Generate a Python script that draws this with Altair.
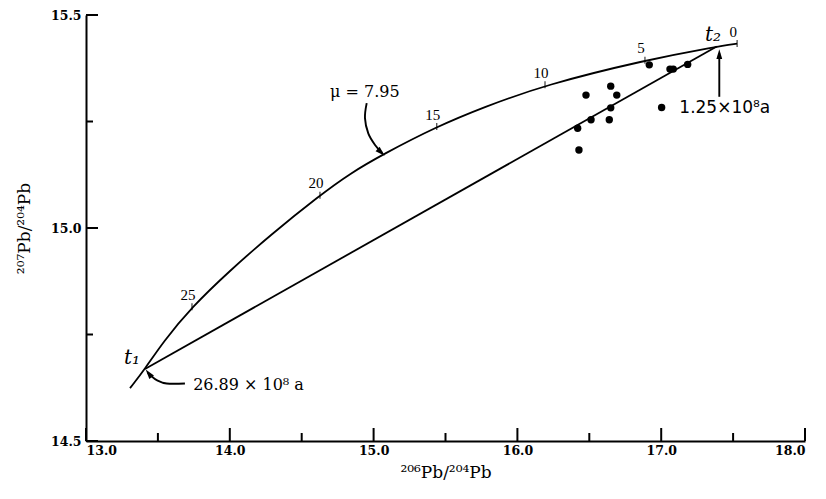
import altair as alt
import pandas as pd

# ---- data ----
# growth curve (mu = 7.95), from beyond t1 to t = 0
curve_x = [13.306, 13.410, 13.535, 13.737, 14.001, 14.280, 14.627, 14.836, 15.065,
           15.439, 15.761, 16.192, 16.887, 17.386, 17.528]
curve_y = [14.624, 14.669, 14.732, 14.815, 14.900, 14.983, 15.077, 15.128, 15.173,
           15.238, 15.283, 15.336, 15.394, 15.426, 15.433]

# age marks on the growth curve (x 10^8 a)
age_labels = ["25", "20", "15", "10", "5", "0"]
age_x = [13.737, 14.627, 15.439, 16.192, 16.887, 17.528]
age_y = [14.815, 15.077, 15.238, 15.336, 15.394, 15.433]

# isochron (t1 -> t2)
iso_x = [13.410, 17.386]
iso_y = [14.669, 15.426]

# measured samples
sample_x = [16.917, 17.061, 17.084, 17.184, 16.477, 16.649, 16.691,
            16.649, 16.512, 16.639, 16.419, 16.428, 17.003]
sample_y = [15.383, 15.373, 15.373, 15.384, 15.312, 15.333, 15.312,
            15.282, 15.254, 15.254, 15.234, 15.183, 15.283]

# axis ticks
x_major = [13.0, 14.0, 15.0, 16.0, 17.0, 18.0]
x_minor = [13.5, 14.5, 15.5, 16.5, 17.5]
y_major = [14.5, 15.0, 15.5]
y_minor = [14.75, 15.25]

# annotation arrows
mu_arrow_x = [14.952, 14.940, 14.963, 15.010, 15.060]
mu_arrow_y = [15.293, 15.258, 15.222, 15.195, 15.176]
t1_arrow_x = [13.688, 13.561, 13.492, 13.452, 13.430]
t1_arrow_y = [14.635, 14.635, 14.643, 14.653, 14.660]
t2_arrow_x = [17.404, 17.404]
t2_arrow_y = [15.308, 15.41]
head_x = [15.045, 13.442, 17.404]
head_y = [15.180, 14.656, 15.405]
head_angle = [133, 322, 0]

# texts
texts = ["μ = 7.95", "26.89 × 10⁸ a"]
text_x = [14.697, 13.745]
text_y = [15.320, 14.631]
t2_text = "1.25×10⁸a"
t2_text_x = 17.126
t2_text_y = 15.282
tlabels = ["t₁", "t₂"]
tlabel_x = [13.32, 17.36]
tlabel_y = [14.695, 15.453]

# ---- scales / axes ----
xs = alt.Scale(domain=[13, 18], nice=False, zero=False)
ys = alt.Scale(domain=[14.5, 15.5], nice=False, zero=False)
common_axis = dict(ticks=False, grid=False, domainColor="black", domainWidth=2,
                   labelFont="DejaVu Serif", labelFontSize=12.5, labelFontWeight="bold",
                   labelColor="black",
                   titleFont="DejaVu Serif", titleFontSize=17,
                   titleFontWeight="normal", titleColor="black", format=".1f")
xaxis = alt.Axis(title="²⁰⁶Pb/²⁰⁴Pb", values=x_major, labelPadding=3,
                 titlePadding=8, **common_axis)
yaxis = alt.Axis(title="²⁰⁷Pb/²⁰⁴Pb", values=y_major, labelPadding=5,
                 titlePadding=17, **common_axis)


def X(f):
    return alt.X(f"{f}:Q", scale=xs, axis=xaxis)


def Y(f):
    return alt.Y(f"{f}:Q", scale=ys, axis=yaxis)


curve_df = pd.DataFrame({"x": curve_x, "y": curve_y})
age_df = pd.DataFrame({"x": age_x, "y": age_y, "label": age_labels})
iso_df = pd.DataFrame({"x": iso_x, "y": iso_y})
sample_df = pd.DataFrame({"x": sample_x, "y": sample_y})

arrows = []
for name, ax, ay in [("mu", mu_arrow_x, mu_arrow_y), ("t1", t1_arrow_x, t1_arrow_y),
                     ("t2", t2_arrow_x, t2_arrow_y)]:
    for i, (a, b) in enumerate(zip(ax, ay)):
        arrows.append({"g": name, "i": i, "x": a, "y": b})
arrow_df = pd.DataFrame(arrows)
head_df = pd.DataFrame({"x": head_x, "y": head_y, "a": head_angle})
text_df = pd.DataFrame({"x": text_x, "y": text_y, "t": texts})
t2t_df = pd.DataFrame({"x": [t2_text_x], "y": [t2_text_y], "t": [t2_text]})
tl_df = pd.DataFrame({"x": tlabel_x, "y": tlabel_y, "t": tlabels})

xmaj_df = pd.DataFrame({"x": x_major})
xmin_df = pd.DataFrame({"x": x_minor})
ymaj_df = pd.DataFrame({"y": y_major})
ymin_df = pd.DataFrame({"y": y_minor})

H = 426
W = 719

layers = [
    alt.Chart(curve_df).mark_line(color="black", strokeWidth=1.8, interpolate="basis")
    .encode(x=X("x"), y=Y("y")),
    alt.Chart(iso_df).mark_line(color="black", strokeWidth=1.8).encode(x=X("x"), y=Y("y")),
    alt.Chart(age_df).mark_point(shape="M0,-1L0,1", size=49, color="black", strokeWidth=1.3)
    .encode(x=X("x"), y=Y("y")),
    alt.Chart(age_df).mark_text(font="Liberation Serif", fontSize=15, color="black",
                                dx=-4, dy=-12, align="center", baseline="middle")
    .encode(x=X("x"), y=Y("y"), text="label:N"),
    alt.Chart(sample_df).mark_circle(size=55, color="black", opacity=1)
    .encode(x=X("x"), y=Y("y")),
    alt.Chart(arrow_df).mark_line(color="black", strokeWidth=1.9, interpolate="cardinal")
    .encode(x=X("x"), y=Y("y"), detail="g:N", order="i:Q"),
    alt.Chart(head_df).mark_point(shape="M0,-1.3L0.6,0.7L-0.6,0.7Z", size=95, filled=True,
                                  color="black", opacity=1)
    .encode(x=X("x"), y=Y("y"), angle=alt.Angle("a:Q", scale=None)),
    alt.Chart(text_df).mark_text(font="DejaVu Serif", fontSize=16, color="black",
                                 align="left", baseline="middle")
    .encode(x=X("x"), y=Y("y"), text="t:N"),
    alt.Chart(t2t_df).mark_text(font="DejaVu Sans", fontSize=17, color="black",
                                align="left", baseline="middle")
    .encode(x=X("x"), y=Y("y"), text="t:N"),
    alt.Chart(tl_df).mark_text(font="DejaVu Serif", fontSize=20, fontStyle="italic",
                               color="black", align="center", baseline="middle")
    .encode(x=X("x"), y=Y("y"), text="t:N"),
    # axis ticks pointing inward
    alt.Chart(xmaj_df).mark_rule(color="black", strokeWidth=2)
    .encode(x=X("x"), y=alt.value(H), y2=alt.value(H - 13)),
    alt.Chart(xmin_df).mark_rule(color="black", strokeWidth=2)
    .encode(x=X("x"), y=alt.value(H), y2=alt.value(H - 8)),
    alt.Chart(ymaj_df).mark_rule(color="black", strokeWidth=2)
    .encode(y=Y("y"), x=alt.value(0), x2=alt.value(12)),
    alt.Chart(ymin_df).mark_rule(color="black", strokeWidth=2)
    .encode(y=Y("y"), x=alt.value(0), x2=alt.value(7)),
]

chart = alt.layer(*layers).properties(
    width=W, height=H,
    autosize=alt.AutoSizeParams(type="none"),
    padding={"left": 78, "top": 7, "right": 10, "bottom": 45},
    background="white",
).configure_view(stroke=None)

chart.save("out.html", embed_options={"renderer": "svg", "actions": False})
